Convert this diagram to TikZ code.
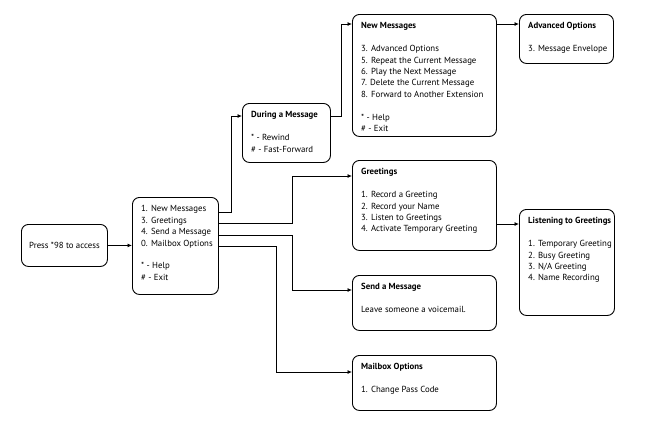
\documentclass[tikz,border=0pt]{standalone}
\usepackage{fontspec}
\setmainfont{PT Sans}
\usetikzlibrary{positioning}
\usetikzlibrary{arrows.meta}
\tikzset {
  x=1pt, y=-1pt,
  % menu box
  box/.style={draw, rounded corners=7pt, line width=0.9pt, anchor=north west, inner sep=0pt},
  % the text inside a box
  txt/.style={anchor=north west, align=left, inner sep=0pt, font=\fontsize{8.8}{11.4}\selectfont},
  link/.style={line width=0.8pt, -{Latex[length=4.5pt,width=4pt]}},
}
\newcommand{\menubox}[6]{%
  \node[box, minimum width=#4, minimum height=#5] (#1) at (#2,#3) {};
  \node[txt] at ([shift={(9,8.5)}]#1.north west) {#6};
}
\begin{document}
\begin{tikzpicture}
  \useasboundingbox (0,0) rectangle (656,437);

  \node[box, minimum width=86, minimum height=42, anchor=north west,
        font=\fontsize{8.8}{11.4}\selectfont] (press) at (21,224) {Press *98 to access};
  \menubox{main}{132}{197}{86}{97}{1. New Messages\\3. Greetings\\4. Send a Message\\0. Mailbox Options\\[11.4pt]* - Help\\\# - Exit}
  \menubox{during}{242}{103}{88}{59}{\textbf{During a Message}\\[11.4pt]* - Rewind\\\# - Fast-Forward}
  \menubox{newmsg}{352}{14}{144}{122}{\textbf{New Messages}\\[11.4pt]3. Advanced Options\\5. Repeat the Current Message\\6. Play the Next Message\\7. Delete the Current Message\\8. Forward to Another Extension\\[11.4pt]* - Help\\\# - Exit}
  \menubox{adv}{519}{14}{94}{49}{\textbf{Advanced Options}\\[11.4pt]3. Message Envelope}
  \menubox{greet}{352}{160}{144}{90}{\textbf{Greetings}\\[11.4pt]1. Record a Greeting\\2. Record your Name\\3. Listen to Greetings\\4. Activate Temporary Greeting}
  \menubox{listen}{519}{209}{95}{106}{\textbf{Listening to Greetings}\\[11.4pt]1. Temporary Greeting\\2. Busy Greeting\\3. N/A Greeting\\4. Name Recording}
  \menubox{send}{352}{275}{144}{55}{\textbf{Send a Message}\\[11.4pt]Leave someone a voicemail.}
  \menubox{mailbox}{352}{355}{144}{55}{\textbf{Mailbox Options}\\[11.4pt]1. Change Pass Code}

  % exit and entry points
  \coordinate (m1) at (main.east |- 0,212);
  \coordinate (m3) at (main.east |- 0,223);
  \coordinate (m4) at (main.east |- 0,235);
  \coordinate (m0) at (main.east |- 0,246);
  \coordinate (d1) at (during.east |- 0,116);
  \coordinate (g1) at (greet.east |- 0,224);

  \draw[link] (press.east) -- (main.west |- press.east);
  \draw[link] (m1) -- ++(12,0) |- (during.west |- d1);
  \draw[link] (d1) -- ++(10,0) |- (newmsg.west |- 0,24);
  \draw[link] (newmsg.east |- 0,24) -- (adv.west |- 0,24);
  \draw[link] (m3) -- (292,223) |- (greet.west |- 0,176);
  \draw[link] (m4) -- (292,235) |- (send.west |- 0,290);
  \draw[link] (m0) -- (276,246) |- (mailbox.west |- 0,372);
  \draw[link] (g1) -- (listen.west |- g1);
\end{tikzpicture}
\end{document}
